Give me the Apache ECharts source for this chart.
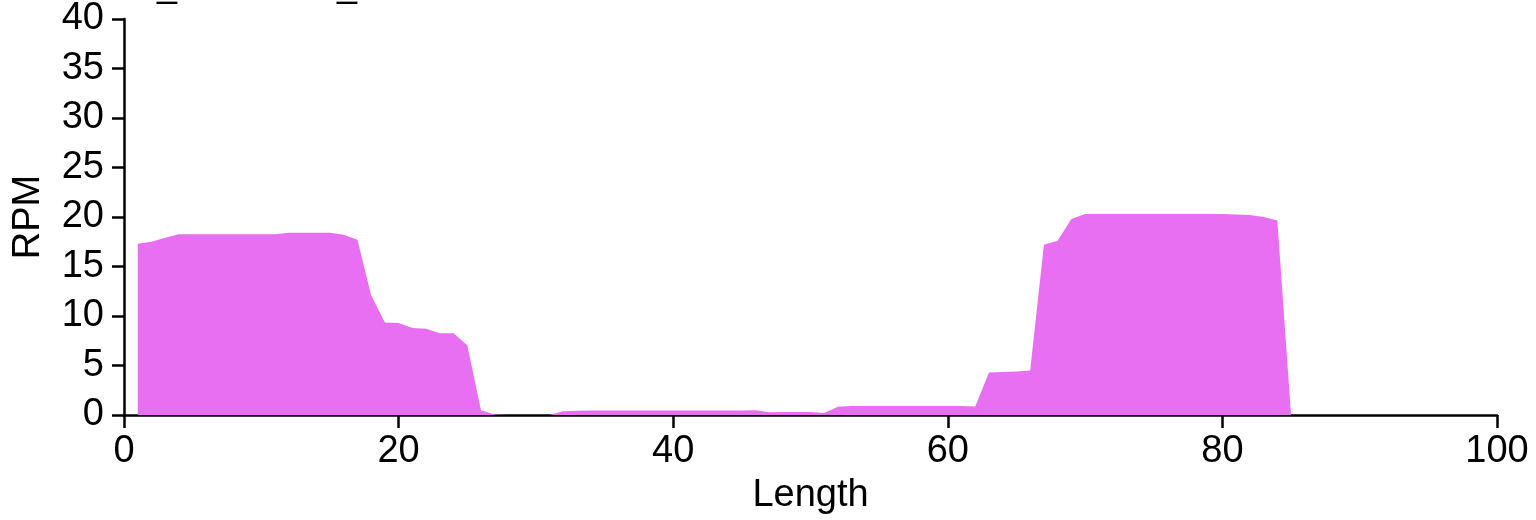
<!DOCTYPE html>
<html>
<head>
<meta charset="utf-8">
<script src="https://cdn.jsdelivr.net/npm/echarts@6/dist/echarts.min.js"></script>
<style>html,body{margin:0;padding:0;background:#fff}#c{width:1536px;height:520px}</style>
</head>
<body>
<div id="c"></div>
<script>
const titleText = 'M_Measured_RPM';
const xName = 'Length';
const yName = 'RPM';
const lengths = [];
for (let i = 1; i <= 85; i++) lengths.push(i);
const rpm = [
  17.3, 17.5, 17.9, 18.25, 18.25, 18.25, 18.25, 18.25, 18.25, 18.25,
  18.25, 18.4, 18.4, 18.4, 18.4, 18.2, 17.7, 12.1, 9.35, 9.3,
  8.8, 8.7, 8.25, 8.25, 7.05, 0.47, 0.05, 0, 0, 0,
  0, 0.37, 0.43, 0.45, 0.45, 0.45, 0.45, 0.45, 0.45, 0.45,
  0.45, 0.45, 0.45, 0.45, 0.45, 0.47, 0.27, 0.3, 0.3, 0.3,
  0.2, 0.83, 0.9, 0.9, 0.9, 0.9, 0.9, 0.9, 0.9, 0.9,
  0.9, 0.87, 4.3, 4.35, 4.4, 4.5, 17.2, 17.6, 19.8, 20.3,
  20.3, 20.3, 20.3, 20.3, 20.3, 20.3, 20.3, 20.3, 20.3, 20.3,
  20.25, 20.2, 20.0, 19.65, 0
];
const xTicks = [0, 20, 40, 60, 80, 100];
const yTicks = [0, 5, 10, 15, 20, 25, 30, 35, 40];

const FONT = 'Liberation Sans, Arial, sans-serif';
const FS = 38;
const chart = echarts.init(document.getElementById('c'));
chart.setOption({
  animation: false,
  backgroundColor: '#ffffff',
  title: {
    text: titleText, left: 122, top: -36,
    textStyle: { fontFamily: FONT, fontSize: 36, fontWeight: 'normal', color: '#000' }
  },
  grid: { left: 124, right: 39, top: 18, bottom: 103, containLabel: false },
  xAxis: {
    type: 'value', min: 0, max: 100, interval: 20,
    name: xName, nameLocation: 'middle', nameGap: 62,
    nameTextStyle: { fontFamily: FONT, fontSize: FS, color: '#000' },
    axisLine: { show: true, lineStyle: { color: '#000', width: 2.5 } },
    axisTick: { show: true, length: 13, lineStyle: { color: '#000', width: 2.5 } },
    axisLabel: { fontFamily: FONT, fontSize: FS, color: '#000', margin: 18,
      formatter: v => xTicks.includes(v) ? String(v) : '' },
    splitLine: { show: false }
  },
  yAxis: {
    type: 'value', min: 0, max: 40, interval: 5,
    name: yName, nameLocation: 'middle', nameGap: 76, nameRotate: 90,
    nameTextStyle: { fontFamily: FONT, fontSize: FS, color: '#000' },
    axisLine: { show: true, lineStyle: { color: '#000', width: 2.5 } },
    axisTick: { show: true, length: 12, lineStyle: { color: '#000', width: 2.5 } },
    axisLabel: { fontFamily: FONT, fontSize: FS, color: '#000', margin: 20,
      formatter: v => yTicks.includes(v) ? String(v) : '' },
    splitLine: { show: false }
  },
  series: [{
    type: 'line',
    data: lengths.map((x, i) => [x, rpm[i]]),
    symbol: 'none',
    lineStyle: { width: 0, color: '#e86ef2' },
    itemStyle: { color: '#e86ef2' },
    areaStyle: { color: '#e86ef2', opacity: 1 }
  }]
});
</script>
</body>
</html>
